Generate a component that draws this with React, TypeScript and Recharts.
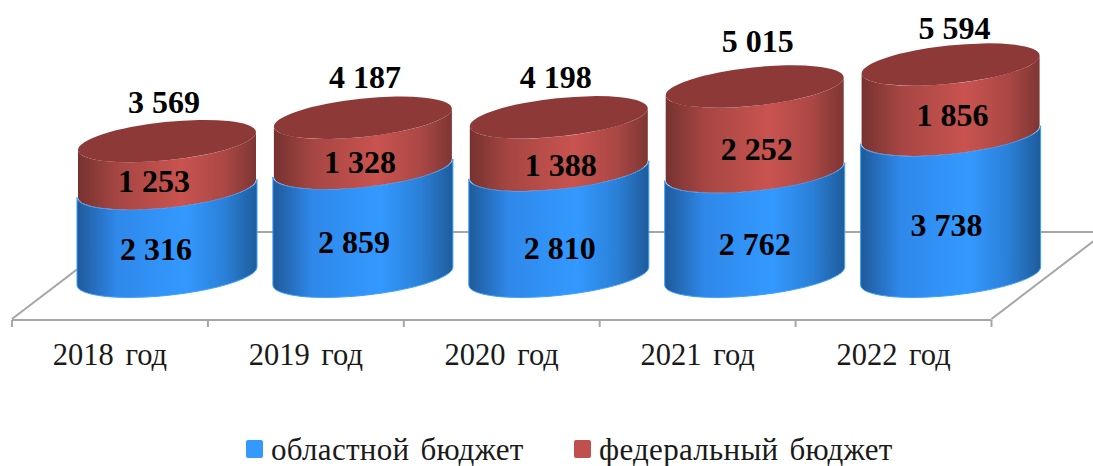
import React from 'react';
import { BarChart, Bar, XAxis, YAxis, Legend, LabelList, usePlotArea } from 'recharts';

const years = ['2018 год', '2019 год', '2020 год', '2021 год', '2022 год'];
const regional = [2316, 2859, 2810, 2762, 3738];
const federal = [1253, 1328, 1388, 2252, 1856];
const totals = [3569, 4187, 4198, 5015, 5594];

const rows = years.map((year, i) => ({ year, regional: regional[i], federal: federal[i], total: totals[i] }));

// label fine-tuning, per category
const blueShiftX = [-11, -9, 1, 0, -4];
const redShiftX = [-13, -3, 2, 2, 2];
const totalShiftX = [-3, 2, -3, 3, 4];
const blueShiftY = [-3, 0, 5, 0, 0];
const redShiftY = [-3, 0, 2, 1, -4];
const totalShiftY = [-1, -3, -2, -7, 1];

const DEPTH_X = 57;
const DEPTH_Y = -44;
const TILT = 6;
const SERIF = '"Liberation Serif", serif';

const fmt = (v: number) => String(v).replace(/\B(?=(\d{3})+$)/g, ' ');

function Floor() {
  const p = usePlotArea();
  if (!p) return null;
  const bottom = p.y + p.height;
  const right = p.x + p.width;
  const c = '#a6a6a6';
  const backY = bottom + DEPTH_Y * 2;
  const backDx = DEPTH_X * 2;
  return (
    <g stroke={c} strokeWidth={2} fill="none">
      <line x1={p.x} y1={bottom - 1} x2={p.x + backDx} y2={backY} />
      <line x1={right} y1={bottom - 1} x2={right + backDx} y2={backY} />
      <line x1={p.x + backDx} y1={backY} x2={right + backDx} y2={backY} />
      <line x1={p.x} y1={bottom} x2={right} y2={bottom} />
    </g>
  );
}

function Defs() {
  return (
    <defs>
      <linearGradient id="blueSide" x1="0" x2="1" y1="0" y2="0">
        <stop offset="0%" stopColor="#1f5a9a" />
        <stop offset="22%" stopColor="#2f88ea" />
        <stop offset="60%" stopColor="#3399ff" />
        <stop offset="82%" stopColor="#2b80d8" />
        <stop offset="100%" stopColor="#1e5c9c" />
      </linearGradient>
      <linearGradient id="redSide" x1="0" x2="1" y1="0" y2="0">
        <stop offset="0%" stopColor="#763230" />
        <stop offset="22%" stopColor="#a64643" />
        <stop offset="58%" stopColor="#c9534f" />
        <stop offset="82%" stopColor="#ab4845" />
        <stop offset="100%" stopColor="#7e3634" />
      </linearGradient>
    </defs>
  );
}

function Cylinder(props: any) {
  const { x, y, width, height, grad, edge, top, inset } = props;
  const cx = x + width / 2 + DEPTH_X;
  const hx = width / 2 - inset;
  const rad = (TILT * Math.PI) / 180;
  const s = Math.sin(rad);
  const co = Math.cos(rad);
  const b = hx * 0.215;
  const a = Math.sqrt((hx * hx - b * b * s * s) / (co * co));
  const skew = ((a * a - b * b) * s * co) / hx;
  const yT = y + DEPTH_Y;
  const yB = y + height + DEPTH_Y;
  const arc = (sweep: number, tx: number, ty: number) => `A ${a} ${b} ${-TILT} 0 ${sweep} ${tx} ${ty}`;
  const side = [
    `M ${cx - hx} ${yT + skew}`,
    `L ${cx - hx} ${yB + skew}`,
    arc(0, cx + hx, yB - skew),
    `L ${cx + hx} ${yT - skew}`,
    arc(1, cx - hx, yT + skew),
    'Z',
  ].join(' ');
  return (
    <g>
      <path d={side} fill={`url(#${grad})`} stroke={edge} strokeWidth={edge === 'none' ? 0 : 1} />
      {top ? <ellipse cx={cx} cy={yT} rx={a} ry={b} transform={`rotate(${-TILT} ${cx} ${yT})`} fill={top} /> : null}
    </g>
  );
}

const makeLabel = (shiftX: number[], shiftY: number[], dy: number, anchor: 'mid' | 'top') => (props: any) => {
  const { x, y, width, height, value, index } = props;
  const cx = x + width / 2 + DEPTH_X + shiftX[index];
  const ly = (anchor === 'mid' ? y + height / 2 : y) + DEPTH_Y + dy + shiftY[index];
  return (
    <text x={cx} y={ly} textAnchor="middle" dominantBaseline="central" fontFamily={SERIF} fontWeight={700} fontSize={32} fill="#000">
      {fmt(value)}
    </text>
  );
};

function YearTick(props: any) {
  const { x, payload, index } = props;
  const band = 195.9;
  const left = x - band / 2;
  return (
    <g>
      <line x1={left} y1={320} x2={left} y2={327} stroke="#a6a6a6" strokeWidth={2} />
      {index === years.length - 1 ? <line x1={left + band} y1={320} x2={left + band} y2={327} stroke="#a6a6a6" strokeWidth={2} /> : null}
      <text x={x} y={355} textAnchor="middle" dominantBaseline="central" fontFamily={SERIF} fontSize={30.5} wordSpacing={4} fill="#1a1a1a">
        {payload.value}
      </text>
    </g>
  );
}

function LegendBox(props: any) {
  const spots = [246, 574];
  return (
    <div style={{ position: 'relative', height: 46, width: 1093 }}>
      {(props.payload || []).map((e: any, i: number) => (
        <div key={e.value} style={{ position: 'absolute', left: spots[i], top: 0, height: 46, whiteSpace: 'nowrap' }}>
          <span style={{ position: 'absolute', left: 0, top: 20, width: 17, height: 18, background: e.color, borderRadius: 2 }} />
          <span style={{ position: 'absolute', left: 25, top: 12, fontFamily: SERIF, fontSize: 31, lineHeight: '36px', letterSpacing: 0.3, wordSpacing: 3, color: '#1a1a1a' }}>{e.value}</span>
        </div>
      ))}
    </div>
  );
}

export default function App() {
  return (
    <div style={{ position: 'absolute', left: 0, top: 0, width: 1093, height: 466, overflow: 'hidden', background: '#fff' }}>
      <BarChart
        width={1093}
        height={466}
        data={rows}
        barSize={180}
        margin={{ top: 93.2, right: 101.5, bottom: 0, left: 12 }}
      >
        <Defs />
        <Floor />
        <XAxis dataKey="year" height={100} axisLine={false} tickLine={false} tick={<YearTick />} interval={0} />
        <YAxis hide domain={[0, 6000]} />
        <Legend
          verticalAlign="bottom"
          wrapperStyle={{ left: 0, bottom: 0, width: 1093, height: 46 }}
          content={<LegendBox />}
        />
        <Bar
          dataKey="regional"
          name="областной бюджет"
          stackId="s"
          fill="#3399ff"
          isAnimationActive={false}
          shape={(p: any) => <Cylinder {...p} grad="blueSide" edge="#39a0ff" inset={0} />}
        >
          <LabelList dataKey="regional" content={makeLabel(blueShiftX, blueShiftY, 20, 'mid')} />
        </Bar>
        <Bar
          dataKey="federal"
          name="федеральный бюджет"
          stackId="s"
          fill="#c0504d"
          isAnimationActive={false}
          shape={(p: any) => <Cylinder {...p} grad="redSide" edge="none" top="#8c3937" inset={1} />}
        >
          <LabelList dataKey="federal" content={makeLabel(redShiftX, redShiftY, 19, 'mid')} />
          <LabelList dataKey="total" content={makeLabel(totalShiftX, totalShiftY, -38, 'top')} />
        </Bar>
      </BarChart>
    </div>
  );
}
